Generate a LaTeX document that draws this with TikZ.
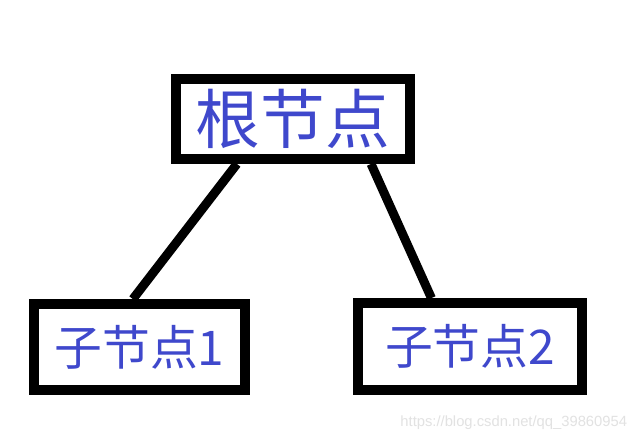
\documentclass[tikz,border=0pt]{standalone}
\usepackage{fontspec}
\newfontfamily\cjkfont{Noto Sans CJK SC}
\setsansfont{Liberation Sans}
\usetikzlibrary{calc}
\definecolor{paintBlue}{HTML}{3F48CC}
\definecolor{markGray}{HTML}{E2E2E2}
\tikzset{
  % Tree node boxes
  treebox/.style={
    rectangle,
    draw=black,
    fill=white,
    line width=7pt,
    text=paintBlue,
    inner sep=0pt
  },
  % Root label
  rootlabel/.style={
    font=\cjkfont\fontsize{46}{46}\selectfont
  },
  % Child label
  childlabel/.style={
    font=\cjkfont\fontsize{34}{34}\selectfont
  },
  % Tree edge
  treeedge/.style={
    line width=6.4pt,
    black
  }
}
\begin{document}
\begin{tikzpicture}[x=0.025cm, y=-0.025cm]
\useasboundingbox[fill=white] (0, 0) rectangle (640, 441);

% Root node
\node[treebox, rootlabel, minimum width=5.85cm, minimum height=2cm] (root) at (293, 119) {根节点};

% Child nodes
\node[treebox, childlabel, minimum width=5.275cm, minimum height=2.15cm] (child1) at (139.5, 347) {子节点1};
\node[treebox, childlabel, minimum width=5.6cm, minimum height=2.175cm] (child2) at (470, 346.5) {子节点2};

% Edges
\draw[treeedge] ($(root.south west)!0.27!(root.south east)$) -- ($(child1.north west)!0.47!(child1.north east)$);
\draw[treeedge] ($(root.south west)!0.82!(root.south east)$) -- ($(child2.north west)!0.335!(child2.north east)$);

% Watermark
\node[font=\sffamily\fontsize{10.5}{10.5}\selectfont, text=markGray, anchor=east] (mark) at (632, 423) {https://blog.csdn.net/qq\_39860954};
\end{tikzpicture}
\end{document}
